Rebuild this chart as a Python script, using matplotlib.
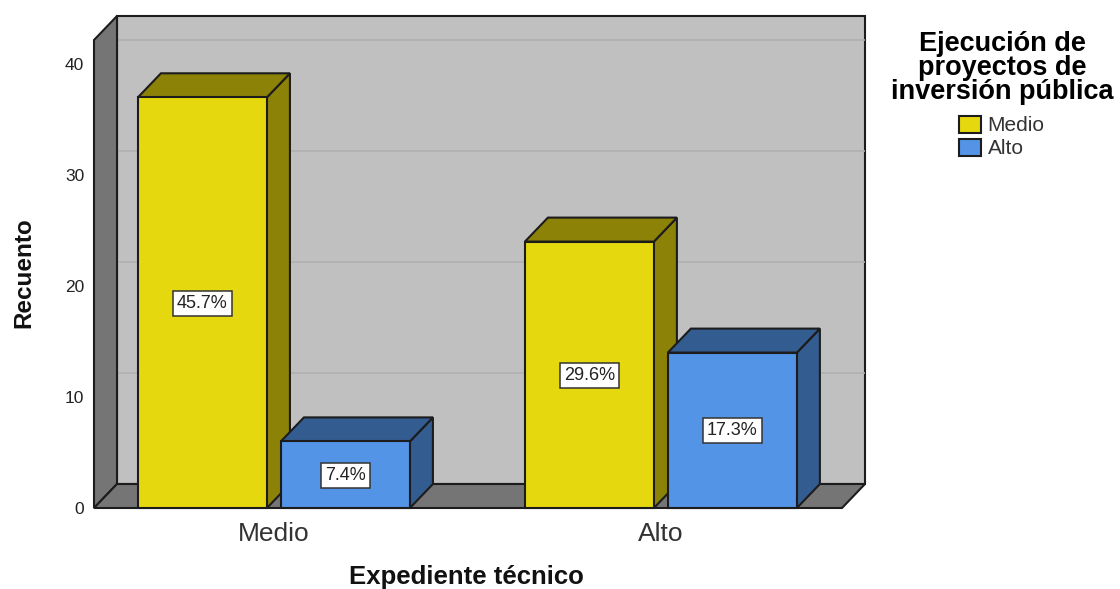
#!/usr/bin/env python3
# Recuento de ejecucion de proyectos por expediente tecnico, barras 3D estilo SPSS
import numpy as np
import matplotlib
matplotlib.use("Agg")
import matplotlib.pyplot as plt
from matplotlib.patches import Polygon, Patch

plt.rcParams['font.family'] = ['Liberation Sans', 'DejaVu Sans']

categories = ['Medio', 'Alto']
series_names = ['Medio', 'Alto']
medio_counts = [37, 24]
alto_counts = [6, 14]
medio_pct = ['45.7%', '29.6%']
alto_pct = ['7.4%', '17.3%']
y_ticks = [0, 10, 20, 30, 40]

DARK = '#1c1c1c'
face_colors = ['#E5D80E', '#5394E6']
side_colors = ['#8C8208', '#335C90']

W, H = 1120, 589
fig = plt.figure(figsize=(W / 100, H / 100), dpi=100)
# front plane of the box, in pixels: x 94-842, y 40-508
ax = fig.add_axes([94 / W, 1 - 508 / H, 748 / W, 468 / H])
x = np.arange(len(categories))
ax.set_xlim(-0.465, 1.468)
ax.set_ylim(0, 468 / 11.1)

width = 129 / 387
gap = 14 / 387
dx = 23 / 387       # depth offset
dy = 24 / 11.1
x0, x1 = ax.get_xlim()
y0, y1 = ax.get_ylim()


def poly(pts, color, z, lw=1.5):
    ax.add_patch(Polygon(pts, closed=True, facecolor=color, edgecolor=DARK,
                         linewidth=lw, joinstyle='miter', clip_on=False, zorder=z))


# walls
poly([(x0 + dx, y0 + dy), (x1 + dx, y0 + dy), (x1 + dx, y1 + dy), (x0 + dx, y1 + dy)], '#C0C0C0', 1)
poly([(x0, y0), (x0 + dx, y0 + dy), (x0 + dx, y1 + dy), (x0, y1)], '#757575', 2)
poly([(x0, y0), (x1, y0), (x1 + dx, y0 + dy), (x0 + dx, y0 + dy)], '#757575', 2)
for v in y_ticks[1:]:
    ax.plot([x0 + dx, x1 + dx], [v + dy, v + dy], color='#B0B0B0', lw=1.2,
            solid_capstyle='butt', clip_on=False, zorder=1.5)


def bar3d(left, h, i, z):
    right = left + width
    poly([(right, 0), (right + dx, dy), (right + dx, h + dy), (right, h)], side_colors[i], z)
    poly([(left, h), (right, h), (right + dx, h + dy), (left + dx, h + dy)], side_colors[i], z)
    poly([(left, 0), (right, 0), (right, h), (left, h)], face_colors[i], z + 0.1)


def pct_label(left, h, s):
    ax.text(left + width / 2, h / 2 - 0.05, s, ha='center', va='center', fontsize=13,
            color='#222222', zorder=20,
            bbox=dict(boxstyle='square,pad=0.22', facecolor='white',
                      edgecolor='#333333', linewidth=1.1))


for k in range(len(categories)):
    left_m = x[k] - width - gap / 2
    left_a = x[k] + gap / 2
    bar3d(left_m, medio_counts[k], 0, 5 + k * 2)
    bar3d(left_a, alto_counts[k], 1, 6 + k * 2)
    pct_label(left_m, medio_counts[k], medio_pct[k])
    pct_label(left_a, alto_counts[k], alto_pct[k])

for s in ax.spines.values():
    s.set_visible(False)
ax.patch.set_visible(False)
ax.set_xticks(x)
ax.set_xticklabels(categories, fontsize=19, color='#333333')
ax.set_yticks(y_ticks)
ax.set_yticklabels([str(v) for v in y_ticks], fontsize=12.5, color='#222222')
ax.tick_params(axis='both', length=0)
ax.tick_params(axis='x', pad=10)
ax.tick_params(axis='y', pad=7)

fig.text(24 / W, 1 - 273 / H, 'Recuento', rotation=90, ha='center', va='center',
         fontsize=17.5, fontweight='bold', color='#111111')
fig.text(466 / W, 1 - 577 / H, 'Expediente técnico', ha='center', va='center',
         fontsize=18.5, fontweight='bold', color='#111111')

handles = [Patch(facecolor=c, edgecolor=DARK, linewidth=1.5) for c in face_colors]
leg = fig.legend(handles, series_names, title='Ejecución de\nproyectos de\ninversión pública',
                 loc='upper center', bbox_to_anchor=(1002 / W, 1 - 31 / H), frameon=False,
                 fontsize=15, title_fontproperties={'weight': 'bold', 'size': 19.5},
                 handlelength=1.05, handleheight=0.9, handletextpad=0.3, labelspacing=0.15,
                 borderpad=0, borderaxespad=0)
leg._legend_box.sep = 7.6   # gap between title and entries
leg.get_title().set_multialignment('center')
leg.get_title().set_linespacing(0.9)
for t in leg.get_texts():
    t.set_color('#333333')

fig.savefig('out.png', dpi=100)
